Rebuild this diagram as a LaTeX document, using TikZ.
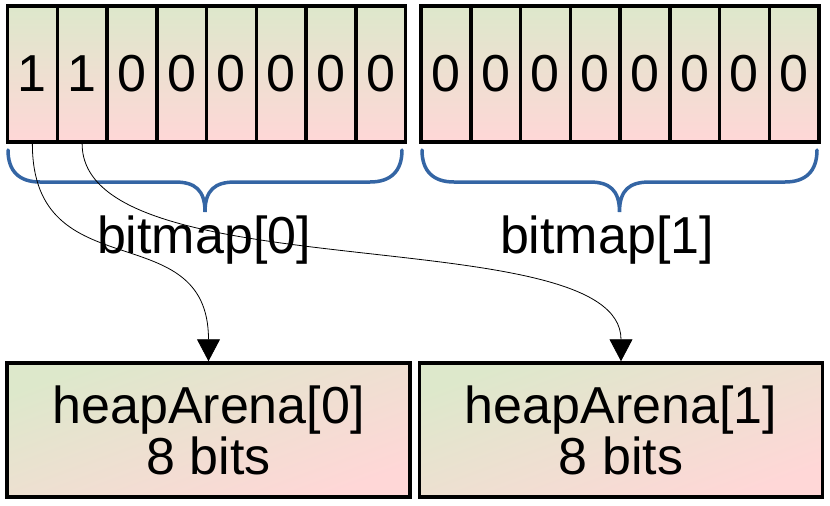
\documentclass[tikz,border=0pt]{standalone}
\usepackage{fontspec}
\setmainfont{Liberation Sans}
\usetikzlibrary{arrows.meta}
\definecolor{bracecol}{RGB}{52,101,164}
\definecolor{pastgreen}{RGB}{221,232,203}
\definecolor{pastpink}{RGB}{255,215,215}

\begin{document}
\begin{tikzpicture}[
  x=1pt, y=-1pt,
  font=\fontsize{52}{51}\selectfont,
  cell/.style={draw, line width=3.5pt, top color=pastgreen,
    bottom color=pastpink, minimum width=49.75pt, minimum height=136pt,
    inner sep=0pt},
  arena/.style={draw, line width=3.5pt, top color=pastgreen,
    bottom color=pastpink, shading angle=20, minimum width=403pt,
    minimum height=134pt, align=center, inner sep=0pt},
  brace/.style={draw=bracecol, line width=3.5pt, line cap=round},
  link/.style={-{Triangle[length=22pt,width=23pt]}, line width=0.8pt},
  lbl/.style={anchor=base, inner sep=0pt},
]
\useasboundingbox (0,0) rectangle (830,506);

% ---- the two bitmap bytes ------------------------------------------------
\foreach \i in {0,...,15} {
  \pgfmathtruncatemacro{\bit}{\i<2}
  \pgfmathsetmacro{\cx}{32.375+49.75*\i+15.5*(\i>7)}
  \node[cell] (c\i) at (\cx,74) {\bit};
}

% ---- braces and their labels ---------------------------------------------
\foreach \l/\r in {8/402, 422/817} {
  \pgfmathsetmacro{\m}{(\l+\r)/2}
  \draw[brace] (\l,150) .. controls (\l,172) and (\l+12,182) .. (\l+32,182)
    -- (\m-30,182) .. controls (\m-10,182) and (\m,190) .. (\m,212)
    .. controls (\m,190) and (\m+10,182) .. (\m+30,182)
    -- (\r-32,182) .. controls (\r-12,182) and (\r,172) .. (\r,150);
}
\node[lbl] (bm0) at (204,253) {bitmap[0]};
\node[lbl] (bm1) at (607,253) {bitmap[1]};

% ---- heap arenas -----------------------------------------------------------
\node[arena] (arena0) at (208.5,430) {heapArena[0]\\8 bits};
\node[arena] (arena1) at (621,430) {heapArena[1]\\8 bits};

% one bit per arena
\draw[link] (c0.south) .. controls +(0,148) and +(0,-148) .. (arena0.north);
\draw[link] (c1.south) .. controls +(0,148) and +(0,-143) .. (arena1.north);

\end{tikzpicture}
\end{document}
